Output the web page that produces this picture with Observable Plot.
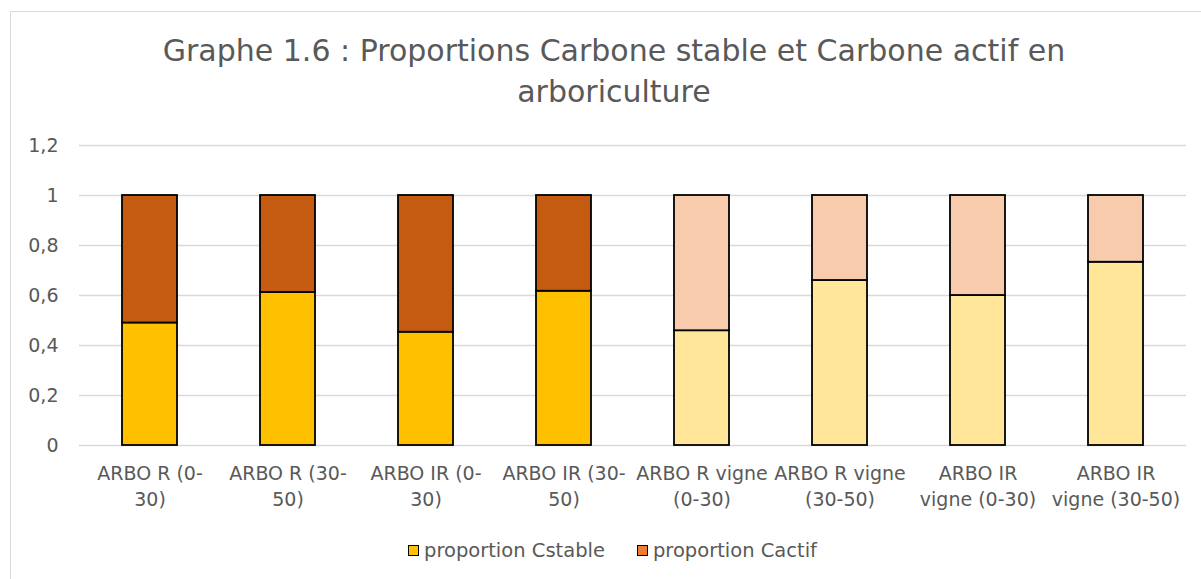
<!DOCTYPE html>
<html><head><meta charset="utf-8">
<script src="https://cdn.jsdelivr.net/npm/d3@7"></script>
<script src="https://cdn.jsdelivr.net/npm/@observablehq/plot@0.6"></script>
<style>
body{margin:0;width:1201px;height:579px;overflow:hidden;background:#fff;font-family:"DejaVu Sans",sans-serif;color:#595959;position:relative}
#frame{position:absolute;left:10px;top:11px;width:1300px;height:700px;border:1.5px solid #D9D9D9;box-sizing:border-box}
#title{position:absolute;left:0;width:1228px;top:30px;text-align:center;font-size:30px;line-height:41px;color:#595959}
#chart{position:absolute;left:0;top:120px}
#legend{position:absolute;top:539px;left:408px;display:flex;align-items:center;font-size:19.5px;color:#595959}
.sw{width:9px;height:9px;border:1.5px solid #000;margin-right:5px}
.item{display:flex;align-items:center;margin-right:32px}
</style></head>
<body>
<div id="frame"></div>
<div id="title">Graphe 1.6 : Proportions Carbone stable et Carbone actif en<br>arboriculture</div>
<div id="chart"></div>
<div id="legend"></div>
<script>
const categories = ["ARBO R (0-\n30)", "ARBO R (30-\n50)", "ARBO IR (0-\n30)", "ARBO IR (30-\n50)",
  "ARBO R vigne\n(0-30)", "ARBO R vigne\n(30-50)", "ARBO IR\nvigne (0-30)", "ARBO IR\nvigne (30-50)"];
const groups = ["arbo","arbo","arbo","arbo","vigne","vigne","vigne","vigne"];
const proportionCstable = [0.49, 0.612, 0.453, 0.617, 0.459, 0.66, 0.60, 0.733];
const proportionCactif = proportionCstable.map(v => +(1 - v).toFixed(3));
const seriesNames = ["proportion Cstable", "proportion Cactif"];
const yTicks = [0, 0.2, 0.4, 0.6, 0.8, 1, 1.2];

const palette = {
  arbo: {"proportion Cstable": "#FFC000", "proportion Cactif": "#C55A11"},
  vigne: {"proportion Cstable": "#FFE699", "proportion Cactif": "#F8CBAD"}
};
const legendColors = {"proportion Cstable": "#FFC000", "proportion Cactif": "#ED7D31"};

const rows = [];
categories.forEach((c, i) => {
  rows.push({cat: c, series: seriesNames[0], value: proportionCstable[i], color: palette[groups[i]][seriesNames[0]]});
  rows.push({cat: c, series: seriesNames[1], value: proportionCactif[i], color: palette[groups[i]][seriesNames[1]]});
});

const fmt = v => String(v).replace(".", ",");

const plot = Plot.plot({
  width: 1201,
  height: 420,
  marginTop: 25,
  marginBottom: 95,
  marginLeft: 79,
  marginRight: 15,
  style: {fontFamily: "DejaVu Sans, sans-serif", color: "#595959", background: "transparent"},
  x: {domain: categories, paddingInner: 0.6, paddingOuter: 0.3, align: 0.5},
  y: {domain: [0, 1.2]},
  color: {type: "identity"},
  marks: [
    Plot.gridY(yTicks, {stroke: "#D9D9D9", strokeOpacity: 1, strokeWidth: 1.5}),
    Plot.barY(rows, {x: "cat", y: "value", fill: "color", stroke: "#000", strokeWidth: 1.8}),
    Plot.axisY(yTicks, {tickSize: 0, tickPadding: 21, fontSize: 19, fill: "#595959", tickFormat: fmt, label: null}),
    Plot.axisX({tickSize: 0, tickPadding: 17, fontSize: 19, fill: "#595959", lineHeight: 1.33, label: null})
  ]
});
document.getElementById("chart").appendChild(plot);

const lg = document.getElementById("legend");
seriesNames.forEach(s => {
  const it = document.createElement("div");
  it.className = "item";
  const sw = document.createElement("div");
  sw.className = "sw";
  sw.style.background = legendColors[s];
  const t = document.createElement("span");
  t.textContent = s;
  it.appendChild(sw); it.appendChild(t);
  lg.appendChild(it);
});
</script>
</body></html>
